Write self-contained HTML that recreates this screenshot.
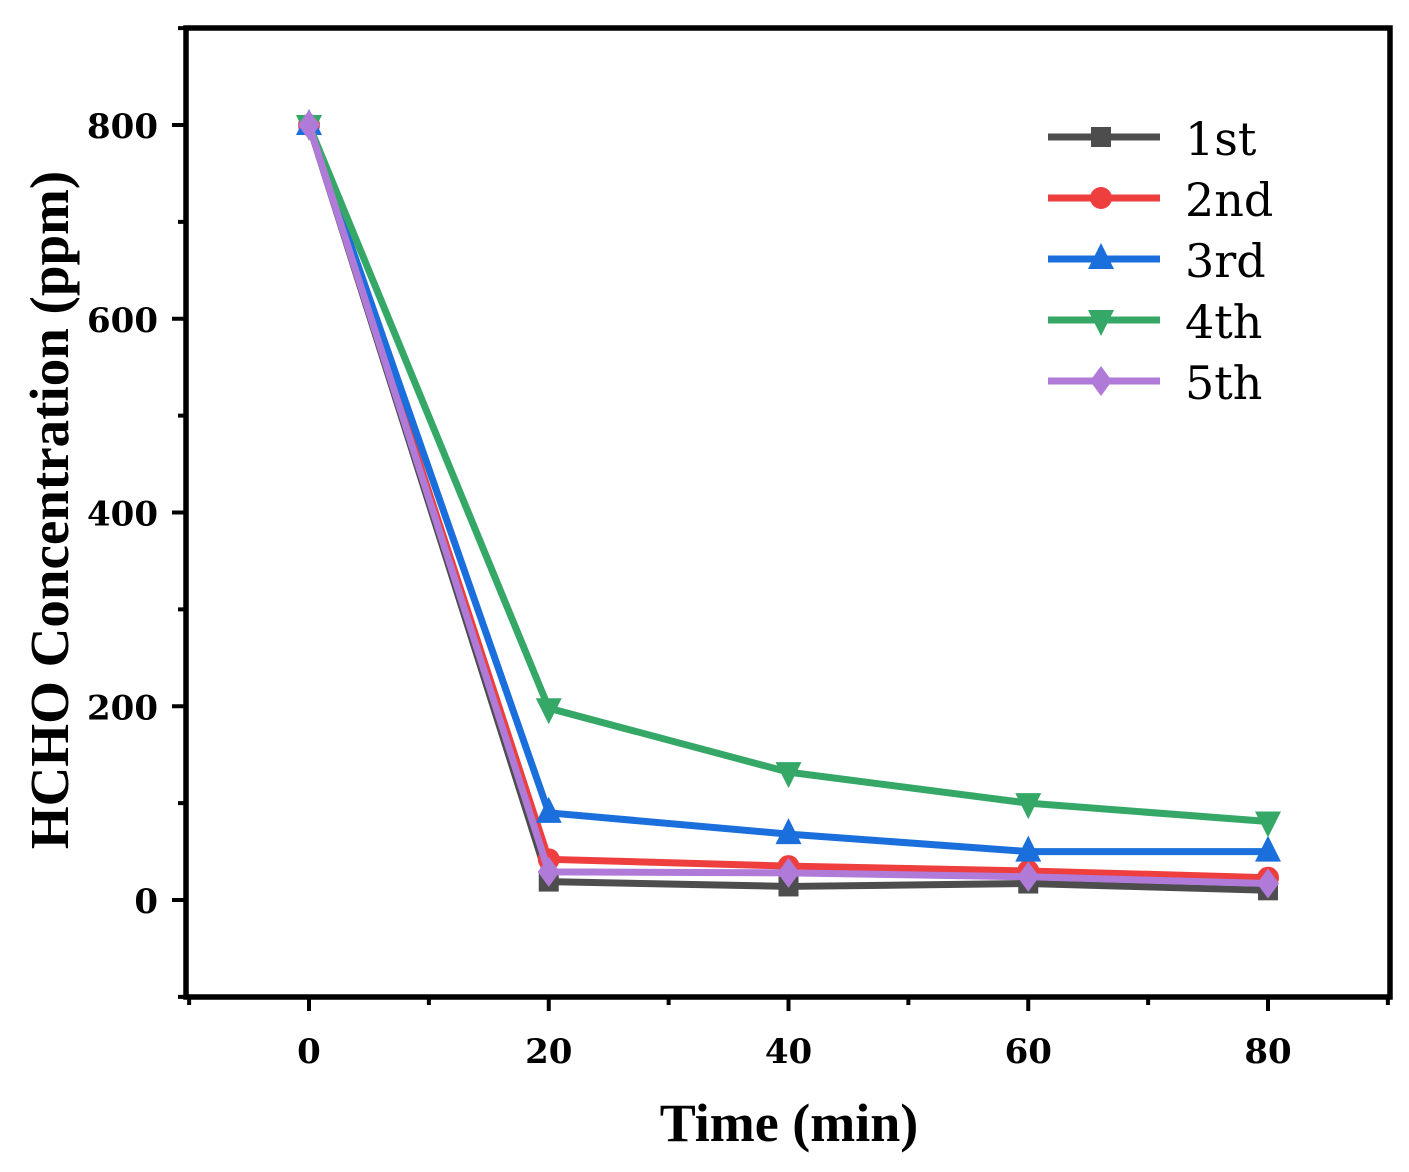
<!DOCTYPE html>
<html><head><meta charset="utf-8"><style>
body{margin:0;background:#fff;}
.lib{font-family:"Liberation Serif",serif;}
.dv{font-family:"DejaVu Serif",serif;}
</style></head><body>
<svg id="chart" width="1409" height="1167" viewBox="0 0 1409 1167" xmlns="http://www.w3.org/2000/svg">
<rect x="186" y="28" width="1204" height="969" fill="none" stroke="#000" stroke-width="5.5"/>
<g id="axes"></g>
<g id="series"></g>
<g id="legend"></g>
<text class="lib" x="789" y="1141" font-size="54" font-weight="bold" text-anchor="middle">Time (min)</text>
<text class="lib" transform="translate(68,510) rotate(-90)" font-size="55" font-weight="bold" text-anchor="middle">HCHO Concentration (ppm)</text>
</svg>
<script>
const times = [0, 20, 40, 60, 80];
const seriesNames = ["1st", "2nd", "3rd", "4th", "5th"];
const s1 = [800, 19, 14, 17, 10];
const s2 = [800, 42, 35, 30, 23];
const s3 = [800, 90, 68, 50, 50];
const s4 = [800, 198, 132, 100, 81];
const s5 = [800, 29, 28, 24, 17];
const xTicks = [0, 20, 40, 60, 80];
const yTicks = [0, 200, 400, 600, 800];

const NS = "http://www.w3.org/2000/svg";
function X(v){ return 309 + (v - 0) * (1268 - 309) / 80; }
function Y(v){ return 900 - v * (900 - 125) / 800; }
function mk(tag, attrs, parent){ const e = document.createElementNS(NS, tag); for (const k in attrs) e.setAttribute(k, attrs[k]); parent.appendChild(e); return e; }

const axes = document.getElementById('axes');
for (let v = -10; v <= 90; v += 10) {
  const major = xTicks.includes(v);
  const t = mk('line', {x1: X(v), x2: X(v), y1: 997, y2: 997 + (major ? 14 : 8), stroke: '#000', 'stroke-width': 4}, axes);
  
  
}
xTicks.forEach(v => {
  const t = mk('text', {class: 'dv', x: X(v), y: 1063, 'font-size': 34, 'font-weight': 'bold', 'text-anchor': 'middle'}, axes);
  t.textContent = v;
  
  
});
for (let v = -100; v <= 900; v += 100) {
  const major = yTicks.includes(v);
  const t = mk('line', {x1: 186 - (major ? 14 : 8), x2: 186, y1: Y(v), y2: Y(v), stroke: '#000', 'stroke-width': 4}, axes);
  
  
}
yTicks.forEach(v => {
  const t = mk('text', {class: 'dv', x: 158, y: Y(v) + 13, 'font-size': 34, 'font-weight': 'bold', 'text-anchor': 'end'}, axes);
  t.textContent = v;
  
  
});

const colors = ["#4d4d4d", "#ee3e3e", "#1a6fdc", "#35a867", "#b07ad9"];
const shapes = ["square", "circle", "up", "down", "diamond"];
const allSeries = [s1, s2, s3, s4, s5];

function marker(shape, cx, cy, color, parent){
  const r = 12;
  let e;
  if (shape === 'square') e = mk('rect', {x: cx - 10, y: cy - 10, width: 20, height: 20, fill: color}, parent);
  else if (shape === 'circle') e = mk('circle', {cx: cx, cy: cy, r: 11, fill: color}, parent);
  else if (shape === 'up') e = mk('polygon', {points: `${cx},${cy-r-4} ${cx-r-1},${cy+r-2} ${cx+r+1},${cy+r-2}`, fill: color}, parent);
  else if (shape === 'down') e = mk('polygon', {points: `${cx},${cy+r+4} ${cx-r-1},${cy-r+2} ${cx+r+1},${cy-r+2}`, fill: color}, parent);
  else e = mk('polygon', {points: `${cx},${cy-r-3} ${cx+r-1},${cy} ${cx},${cy+r+3} ${cx-r+1},${cy}`, fill: color}, parent);
  return e;
}

const sg = document.getElementById('series');
allSeries.forEach((vals, i) => {
  const g = mk('g', {}, sg);
  
  
  const pl = mk('polyline', {points: vals.map((v, j) => X(times[j]) + ',' + Y(v)).join(' '), fill: 'none', stroke: colors[i], 'stroke-width': 7, 'stroke-linejoin': 'round'}, g);
  
  
  vals.forEach((v, j) => {
    const m = marker(shapes[i], X(times[j]), Y(v), colors[i], g);
    
    
  });
});

const lg = document.getElementById('legend');


seriesNames.forEach((n, i) => {
  const y = 137 + i * 61;
  const g = mk('g', {}, lg);
  
  
  mk('line', {x1: 1048, x2: 1160, y1: y, y2: y, stroke: colors[i], 'stroke-width': 7}, g);
  marker(shapes[i], 1101, y, colors[i], g);
  const t = mk('text', {class: 'dv', x: 1185, y: y + 18, 'font-size': 46}, g);
  t.textContent = n;
});
</script>
</body></html>
